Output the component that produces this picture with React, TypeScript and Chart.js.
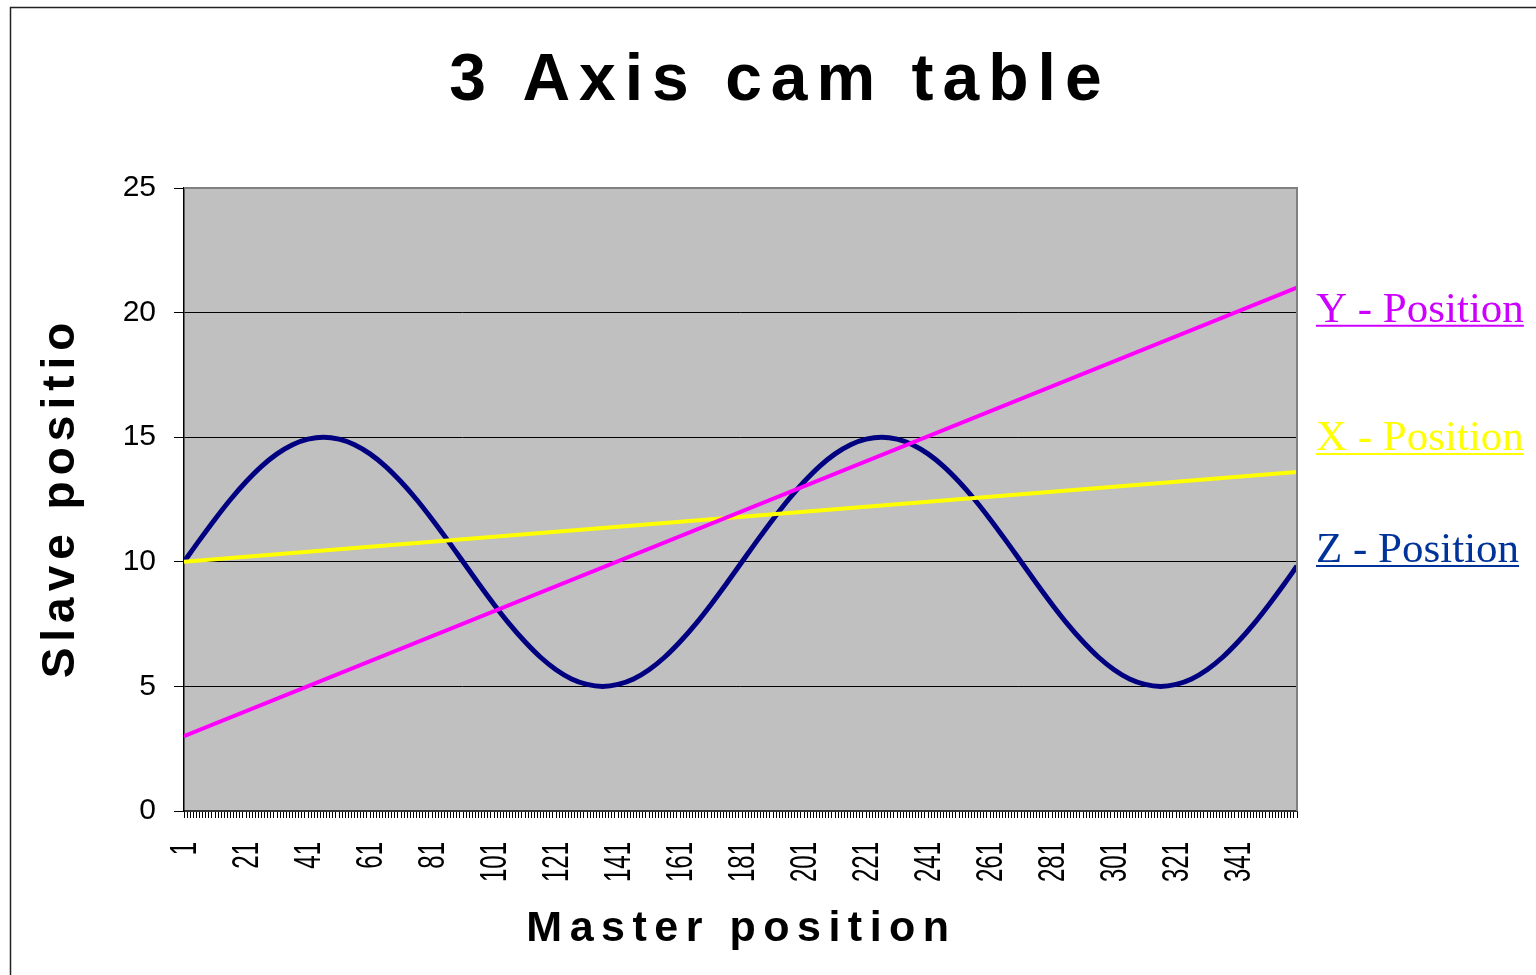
import React, { useEffect, useRef } from "react";
import { Chart, registerables } from "chart.js";

Chart.register(...registerables);

// ---- data ----
const MASTER_SAMPLES = [
  1, 6, 11, 16, 21, 26, 31, 36, 41, 46, 51, 56, 61, 66, 71, 76, 81, 86,
  91, 96, 101, 106, 111, 116, 121, 126, 131, 136, 141, 146, 151, 156, 161, 166, 171, 176,
  181, 186, 191, 196, 201, 206, 211, 216, 221, 226, 231, 236, 241, 246, 251, 256, 261, 266,
  271, 276, 281, 286, 291, 296, 301, 306, 311, 316, 321, 326, 331, 336, 341, 346, 351, 356, 360,
];
const Z_POSITION = [
  10.0, 10.87, 11.71, 12.5, 13.21, 13.83, 14.33, 14.7, 14.92, 15.0, 14.92, 14.7, 14.33, 13.83, 13.21, 12.5, 11.71, 10.87,
  10.0, 9.13, 8.29, 7.5, 6.79, 6.17, 5.67, 5.3, 5.08, 5.0, 5.08, 5.3, 5.67, 6.17, 6.79, 7.5, 8.29, 9.13,
  10.0, 10.87, 11.71, 12.5, 13.21, 13.83, 14.33, 14.7, 14.92, 15.0, 14.92, 14.7, 14.33, 13.83, 13.21, 12.5, 11.71, 10.87,
  10.0, 9.13, 8.29, 7.5, 6.79, 6.17, 5.67, 5.3, 5.08, 5.0, 5.08, 5.3, 5.67, 6.17, 6.79, 7.5, 8.29, 9.13,
  9.83,
];
const LINE_MASTER = [1, 360];
const Y_POSITION = [3, 21];
const X_POSITION = [10, 13.6];

const X_TICK_LABELS = [1, 21, 41, 61, 81, 101, 121, 141, 161, 181, 201, 221, 241, 261, 281, 301, 321, 341];
const Y_TICKS = [0, 5, 10, 15, 20, 25];
const MASTER_MIN = 1;
const MASTER_MAX = 360;

const TITLE = "3 Axis cam table";
const X_TITLE = "Master position";
const Y_TITLE = "Slave positio";
const SERIES_NAMES = ["Y - Position", "X - Position", "Z - Position"];

const SANS = '"Liberation Sans", Arial, sans-serif';
const SERIF = '"Liberation Serif", "Times New Roman", serif';

export default function App() {
  const ref = useRef<HTMLCanvasElement | null>(null);

  useEffect(() => {
    const canvas = ref.current;
    if (!canvas) return;

    const labelOffsets = [34, -22, -4]; // baseline offset from line end
    const labelColors = ["#CC00FF", "#FFFF00", "#003399"];

    const decorations = {
      id: "decorations",
      beforeDraw(chart: any) {
        const { ctx, chartArea } = chart;
        ctx.save();
        ctx.fillStyle = "#ffffff";
        ctx.fillRect(0, 0, chart.width, chart.height);
        ctx.fillStyle = "#C0C0C0";
        ctx.fillRect(chartArea.left, chartArea.top, chartArea.right - chartArea.left, chartArea.bottom - chartArea.top);
        // outer frame
        ctx.strokeStyle = "#222";
        ctx.lineWidth = 1.5;
        ctx.beginPath();
        ctx.moveTo(10.5, chart.height);
        ctx.lineTo(10.5, 7.5);
        ctx.lineTo(chart.width, 7.5);
        ctx.stroke();
        ctx.restore();
      },
      afterDraw(chart: any) {
        const { ctx, chartArea } = chart;
        ctx.save();
        // plot border right/top
        ctx.strokeStyle = "#808080";
        ctx.lineWidth = 2;
        ctx.beginPath();
        ctx.moveTo(chartArea.left, chartArea.top);
        ctx.lineTo(chartArea.right, chartArea.top);
        ctx.lineTo(chartArea.right, chartArea.bottom);
        ctx.stroke();

        // x tick labels (rotated, stretched across like the original)
        const xs = chart.scales.x;
        ctx.fillStyle = "#000";
        ctx.font = `24px ${SANS}`;
        ctx.textAlign = "right";
        ctx.textBaseline = "middle";
        X_TICK_LABELS.forEach((v) => {
          const px = xs.getPixelForValue(v);
          ctx.save();
          ctx.translate(px + 2, chartArea.bottom + 31);
          ctx.rotate(-Math.PI / 2);
          ctx.scale(1, 1.5);
          ctx.fillText(String(v), 0, 0);
          ctx.restore();
        });

        ctx.textBaseline = "alphabetic";
        ctx.textAlign = "center";
        // Title
        ctx.font = `bold 66px ${SANS}`;
        (ctx as any).letterSpacing = "9px";
        ctx.fillText(TITLE, 780, 100);
        // X title
        ctx.font = `bold 43px ${SANS}`;
        (ctx as any).letterSpacing = "7.5px";
        ctx.fillText(X_TITLE, (chartArea.left + chartArea.right) / 2 + 1, 941);
        // Y title
        ctx.save();
        ctx.translate(74, (chartArea.top + chartArea.bottom) / 2 - 2);
        ctx.rotate(-Math.PI / 2);
        ctx.font = `bold 46px ${SANS}`;
        (ctx as any).letterSpacing = "6px";
        ctx.fillText(Y_TITLE, 0, 0);
        ctx.restore();
        (ctx as any).letterSpacing = "0px";

        // series labels
        ctx.font = `43px ${SERIF}`;
        ctx.textAlign = "left";
        chart.data.datasets.forEach((ds: any, i: number) => {
          const meta = chart.getDatasetMeta(i);
          const last = meta.data[meta.data.length - 1];
          const x = chartArea.right + 19;
          const y = last.y + labelOffsets[i];
          ctx.fillStyle = labelColors[i];
          ctx.fillText(SERIES_NAMES[i], x, y);
          const w = ctx.measureText(SERIES_NAMES[i]).width;
          ctx.strokeStyle = labelColors[i];
          ctx.lineWidth = 2;
          ctx.beginPath();
          ctx.moveTo(x, y + 4);
          ctx.lineTo(x + w, y + 4);
          ctx.stroke();
        });
        ctx.restore();
      },
    };

    const chart = new Chart(canvas, {
      type: "line",
      data: {
        datasets: [
          {
            label: SERIES_NAMES[0],
            data: LINE_MASTER.map((m, i) => ({ x: m, y: Y_POSITION[i] })),
            borderColor: "#FF00FF",
            borderWidth: 4,
            pointRadius: 0,
          },
          {
            label: SERIES_NAMES[1],
            data: LINE_MASTER.map((m, i) => ({ x: m, y: X_POSITION[i] })),
            borderColor: "#FFFF00",
            borderWidth: 4,
            pointRadius: 0,
          },
          {
            label: SERIES_NAMES[2],
            data: MASTER_SAMPLES.map((m, i) => ({ x: m, y: Z_POSITION[i] })),
            borderColor: "#000080",
            borderWidth: 5,
            pointRadius: 0,
            cubicInterpolationMode: "monotone",
          },
        ],
      },
      options: {
        responsive: false,
        animation: false,
        events: [],
        layout: { padding: { left: 100, top: 188, right: 239, bottom: 64 } },
        plugins: {
          legend: { display: false },
          title: { display: false },
          tooltip: { enabled: false },
        },
        scales: {
          x: {
            type: "linear",
            min: MASTER_MIN,
            max: MASTER_MAX,
            afterFit(scale: any) {
              scale.height = 100;
            },
            afterBuildTicks(scale: any) {
              const t: any[] = [];
              for (let v = MASTER_MIN; v <= MASTER_MAX; v++) t.push({ value: v });
              scale.ticks = t;
            },
            grid: {
              drawOnChartArea: false,
              drawTicks: true,
              tickLength: 7,
              tickColor: "#000",
              tickWidth: 1,
            },
            border: { display: true, color: "#333", width: 2 },
            ticks: {
              autoSkip: false,
              minRotation: 90,
              maxRotation: 90,
              padding: 22,
              color: "#000",
              font: { family: SANS, size: 24 },
              callback: () => "",
            },
          },
          y: {
            min: 0,
            max: 25,
            afterFit(scale: any) {
              scale.width = 84;
            },
            afterBuildTicks(scale: any) {
              scale.ticks = Y_TICKS.map((v) => ({ value: v }));
            },
            grid: {
              color: (c: any) => (c.tick && c.tick.value === 25 ? "#808080" : c.tick && c.tick.value === 0 ? "#333" : "#000"),
              lineWidth: 1,
              drawTicks: true,
              tickLength: 10,
              tickColor: "#000",
            },
            border: { display: true, color: "#000", width: 1.5 },
            ticks: {
              padding: 18,
              color: "#000",
              font: { family: SANS, size: 30 },
            },
          },
        },
      },
      plugins: [decorations],
    } as any);

    return () => chart.destroy();
  }, []);

  return (
    <div style={{ position: "absolute", left: 0, top: 0, width: 1536, height: 975 }}>
      <canvas ref={ref} width={1536} height={975} style={{ display: "block" }} />
    </div>
  );
}
